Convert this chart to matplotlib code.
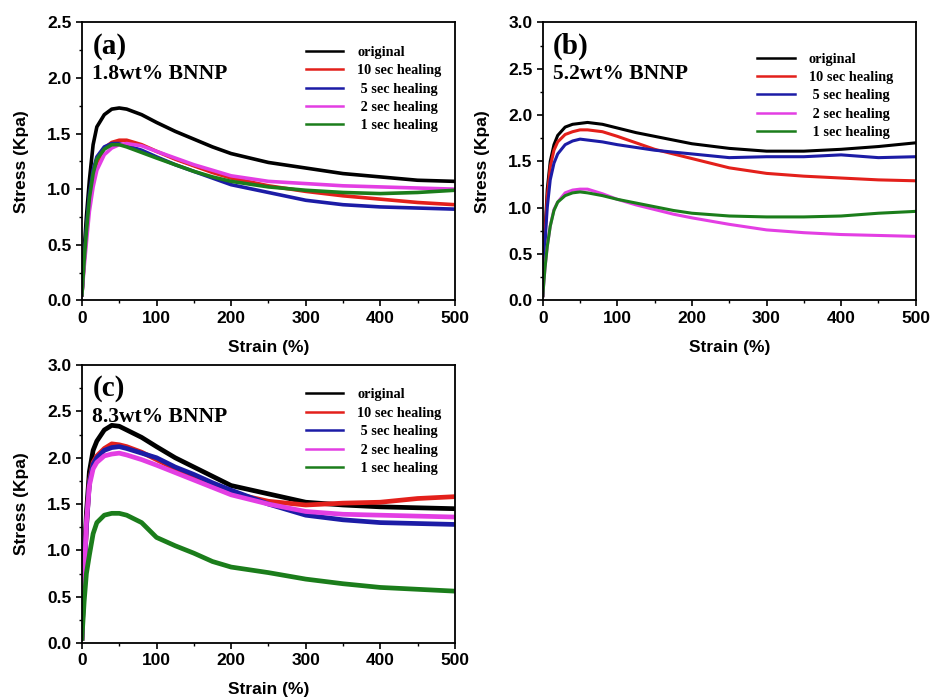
import numpy as np
import matplotlib
matplotlib.use('Agg')
import matplotlib.pyplot as plt
from matplotlib.ticker import MultipleLocator

# strain grid (%) shared by every curve
strain = [0, 3, 6, 10, 15, 20, 30, 40, 50, 60, 80, 100, 125, 150, 175, 200, 250, 300, 350, 400, 450, 500]

labels = ['original', '10 sec healing', ' 5 sec healing', ' 2 sec healing', ' 1 sec healing']
colors = ['#000000', '#e3201b', '#1c1ca6', '#e33ee3', '#1b7d1b']

# (a) 1.8wt% BNNP
a_orig = [0.05, 0.45, 0.75, 1.08, 1.40, 1.56, 1.67, 1.72, 1.73, 1.72, 1.67, 1.60, 1.52, 1.45, 1.38, 1.32, 1.24, 1.19, 1.14, 1.11, 1.08, 1.07]
a_10s = [0.05, 0.35, 0.60, 0.88, 1.10, 1.24, 1.37, 1.42, 1.44, 1.44, 1.40, 1.34, 1.27, 1.21, 1.15, 1.10, 1.03, 0.98, 0.94, 0.91, 0.88, 0.86]
a_5s = [0.05, 0.38, 0.65, 0.95, 1.17, 1.29, 1.38, 1.41, 1.41, 1.39, 1.35, 1.29, 1.22, 1.16, 1.10, 1.04, 0.97, 0.90, 0.86, 0.84, 0.83, 0.82]
a_2s = [0.05, 0.30, 0.52, 0.80, 1.02, 1.17, 1.31, 1.37, 1.40, 1.41, 1.39, 1.34, 1.28, 1.22, 1.17, 1.12, 1.07, 1.05, 1.03, 1.02, 1.01, 1.00]
a_1s = [0.05, 0.36, 0.62, 0.92, 1.14, 1.27, 1.36, 1.40, 1.40, 1.38, 1.33, 1.28, 1.22, 1.16, 1.11, 1.07, 1.02, 0.99, 0.97, 0.96, 0.97, 0.99]

# (b) 5.2wt% BNNP
b_orig = [0.05, 0.75, 1.20, 1.50, 1.68, 1.78, 1.87, 1.90, 1.91, 1.92, 1.90, 1.86, 1.81, 1.77, 1.73, 1.69, 1.64, 1.61, 1.61, 1.63, 1.66, 1.70]
b_10s = [0.05, 0.70, 1.12, 1.44, 1.62, 1.71, 1.79, 1.82, 1.84, 1.84, 1.82, 1.77, 1.70, 1.63, 1.58, 1.53, 1.43, 1.37, 1.34, 1.32, 1.30, 1.29]
b_5s = [0.05, 0.62, 1.00, 1.30, 1.48, 1.58, 1.68, 1.72, 1.74, 1.73, 1.71, 1.68, 1.65, 1.62, 1.60, 1.58, 1.54, 1.55, 1.55, 1.57, 1.54, 1.55]
b_2s = [0.05, 0.35, 0.58, 0.80, 0.98, 1.06, 1.16, 1.19, 1.20, 1.20, 1.15, 1.09, 1.03, 0.98, 0.93, 0.89, 0.82, 0.76, 0.73, 0.71, 0.70, 0.69]
b_1s = [0.05, 0.35, 0.58, 0.80, 0.97, 1.06, 1.13, 1.16, 1.17, 1.16, 1.13, 1.09, 1.05, 1.01, 0.97, 0.94, 0.91, 0.90, 0.90, 0.91, 0.94, 0.96]

# (c) 8.3wt% BNNP
c_orig = [0.05, 0.90, 1.40, 1.85, 2.08, 2.18, 2.30, 2.35, 2.34, 2.30, 2.22, 2.12, 2.00, 1.90, 1.80, 1.70, 1.61, 1.52, 1.49, 1.47, 1.46, 1.45]
c_10s = [0.05, 0.75, 1.25, 1.75, 1.95, 2.02, 2.10, 2.15, 2.14, 2.12, 2.06, 1.98, 1.88, 1.79, 1.70, 1.62, 1.53, 1.49, 1.51, 1.52, 1.56, 1.58]
c_5s = [0.05, 0.75, 1.25, 1.73, 1.93, 2.00, 2.08, 2.11, 2.12, 2.10, 2.05, 2.00, 1.90, 1.82, 1.73, 1.65, 1.50, 1.38, 1.33, 1.30, 1.29, 1.28]
c_2s = [0.05, 0.70, 1.30, 1.70, 1.88, 1.95, 2.02, 2.04, 2.05, 2.03, 1.98, 1.92, 1.84, 1.76, 1.68, 1.60, 1.50, 1.42, 1.39, 1.38, 1.37, 1.36]
c_1s = [0.05, 0.45, 0.75, 0.95, 1.18, 1.30, 1.38, 1.40, 1.40, 1.38, 1.30, 1.14, 1.05, 0.97, 0.88, 0.82, 0.76, 0.69, 0.64, 0.60, 0.58, 0.56]

panels = [
    ('(a)', '1.8wt% BNNP', 2.5, [a_orig, a_10s, a_5s, a_2s, a_1s], 2.6),
    ('(b)', '5.2wt% BNNP', 3.0, [b_orig, b_10s, b_5s, b_2s, b_1s], 2.2),
    ('(c)', '8.3wt% BNNP', 3.0, [c_orig, c_10s, c_5s, c_2s, c_1s], 3.4),
]
positions = [
    [0.088, 0.571, 0.4006, 0.397],
    [0.583, 0.571, 0.4006, 0.397],
    [0.088, 0.0814, 0.4006, 0.397],
]
legend_anchor = [(0.98, 0.937), (0.955, 0.912), (0.98, 0.937)]

sans = 'Liberation Sans'
serif = 'Liberation Serif'

fig = plt.figure(figsize=(9.31, 7.0), dpi=100)

for (tag, name, ymax, series, lw), pos, anchor in zip(panels, positions, legend_anchor):
    ax = fig.add_axes(pos)
    for y, c, lab in zip(series, colors, labels):
        ax.plot(strain, y, color=c, lw=lw, label=lab)
    ax.set_xlim(0, 500)
    ax.set_ylim(0, ymax)
    ax.xaxis.set_major_locator(MultipleLocator(100))
    ax.xaxis.set_minor_locator(MultipleLocator(50))
    ax.yaxis.set_major_locator(MultipleLocator(0.5))
    ax.yaxis.set_minor_locator(MultipleLocator(0.25))
    ax.tick_params(which='major', direction='out', length=4, width=1.2)
    ax.tick_params(which='minor', direction='out', length=2.5, width=1.0)
    for t in ax.get_xticklabels():
        t.set_fontfamily(sans)
        t.set_fontweight('bold')
        t.set_fontsize(12.5)
    ax.set_yticklabels(['%.1f' % v for v in ax.get_yticks()], fontfamily=sans,
                       fontweight='bold', fontsize=12.5)
    for s in ax.spines.values():
        s.set_linewidth(1.3)
    ax.set_xlabel('Strain (%)', fontfamily=sans, fontweight='bold', fontsize=12.5, labelpad=10)
    ax.set_ylabel('Stress (Kpa)', fontfamily=sans, fontweight='bold', fontsize=12.5, labelpad=13)
    ax.text(0.028, 0.915, tag, transform=ax.transAxes, fontfamily=serif,
            fontweight='bold', fontsize=21, va='center', ha='left')
    ax.text(0.028, 0.815, name, transform=ax.transAxes, fontfamily=serif,
            fontweight='bold', fontsize=15.5, va='center', ha='left')
    leg = ax.legend(loc='upper right', bbox_to_anchor=anchor, frameon=False,
                    prop={'family': serif, 'weight': 'bold', 'size': 10.3},
                    handlelength=2.6, handletextpad=1.0, labelspacing=0.38,
                    borderaxespad=0.0)
    for ln in leg.get_lines():
        ln.set_linewidth(1.8)

fig.savefig('out.png', dpi=100)
